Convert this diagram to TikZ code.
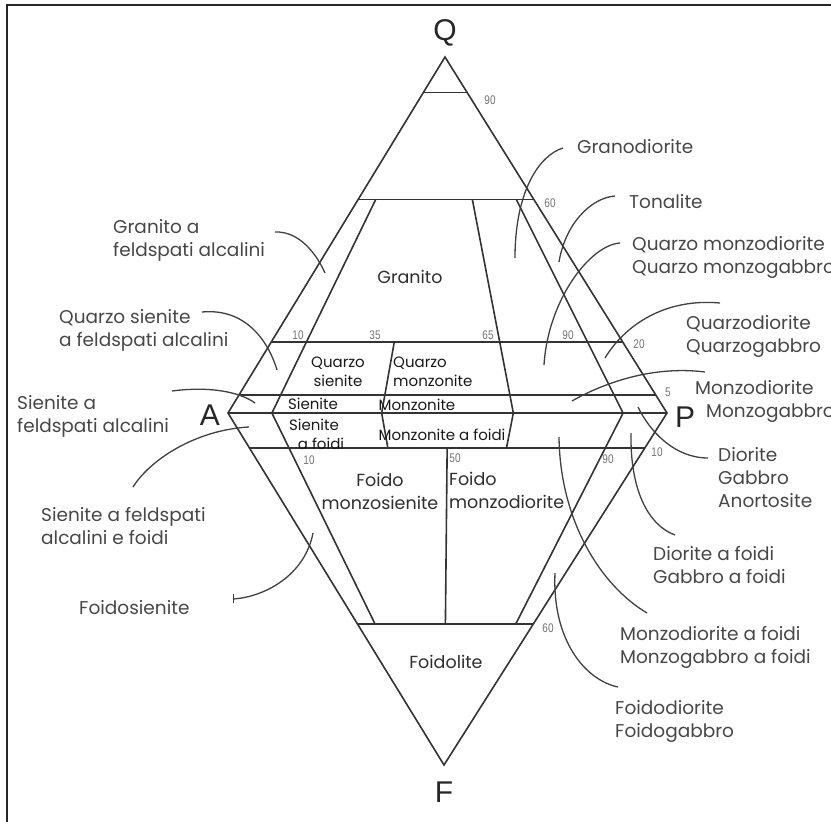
\documentclass[tikz,border=0pt]{standalone}
\usepackage{fontspec}
\setmainfont{Poppins}
\newfontfamily\lettfont{Liberation Sans}
\begin{document}
\begin{tikzpicture}[x=1pt,y=-1pt,
 edge/.style={draw=black!80, line width=1.6pt, line join=miter},
 lead/.style={draw=black!75, line width=1.3pt},
 frame/.style={draw=black!85, line width=1.4pt},
 outlbl/.style={text=black!72, font=\fontsize{18.5}{23}\selectfont, align=left, anchor=west, inner sep=0pt},
 inlbl/.style={text=black!82, font=\fontsize{17.5}{23}\selectfont, align=center, inner sep=0pt},
 smlbl/.style={text=black!90, font=\fontsize{15}{19}\selectfont, align=center, inner sep=0pt},
 num/.style={text=black!55, font=\lettfont\fontsize{12.5}{13}\selectfont, xscale=0.8, inner sep=0pt},
 vtx/.style={text=black!85, font=\lettfont\fontsize{30}{30}\selectfont, inner sep=0pt}]
\useasboundingbox (0,0) rectangle (831,822);
\draw[frame] (7,822) -- (7,5) -- (831,5);

% vertices
\coordinate (Q) at (445,57);
\coordinate (A) at (228,413);
\coordinate (P) at (667,413);
\coordinate (F) at (444,765);

\node[vtx] (lQ) at (445,33) {Q};
\node[vtx] (lA) at (210,415) {A};
\node[vtx] (lP) at (685,417) {P};
\node[vtx] (lF) at (444,792) {F};

% outline
\draw[edge] (Q) -- (A) -- (F) -- (P) -- cycle;
\draw[edge] (A) -- (P);

% horizontal lines, upper
\foreach \q in {0.9,0.6,0.2,0.05}{
  \draw[edge] (barycentric cs:Q=\q,A={1-\q}) -- (barycentric cs:Q=\q,P={1-\q});
}
% horizontal lines, lower
\foreach \f in {0.1,0.6}{
  \draw[edge] (barycentric cs:F=\f,A={1-\f}) -- (barycentric cs:F=\f,P={1-\f});
}
% ratio lines, upper
\draw[edge] (barycentric cs:Q=0.6,A=0.36,P=0.04) -- (barycentric cs:A=0.9,P=0.1);
\draw[edge] (barycentric cs:Q=0.2,A=0.52,P=0.28) -- (barycentric cs:A=0.65,P=0.35);
\draw[edge] (barycentric cs:Q=0.6,A=0.14,P=0.26) -- (barycentric cs:A=0.35,P=0.65);
\draw[edge] (barycentric cs:Q=0.6,A=0.04,P=0.36) -- (barycentric cs:A=0.1,P=0.9);
% ratio lines, lower
\draw[edge] (barycentric cs:A=0.9,P=0.1) -- (barycentric cs:F=0.6,A=0.36,P=0.04);
\draw[edge] (barycentric cs:A=0.65,P=0.35) -- (barycentric cs:F=0.1,A=0.585,P=0.315);
\draw[edge] (barycentric cs:F=0.1,A=0.45,P=0.45) -- (barycentric cs:F=0.6,A=0.2,P=0.2);
\draw[edge] (barycentric cs:A=0.35,P=0.65) -- (barycentric cs:F=0.1,A=0.315,P=0.585);
\draw[edge] (barycentric cs:A=0.1,P=0.9) -- (barycentric cs:F=0.6,A=0.04,P=0.36);

% numbers
\node[num] (n1) at (490,100) {90};
\node[num] (n2) at (550,203) {60};
\node[num] (n3) at (298,335) {10};
\node[num] (n4) at (375,335) {35};
\node[num] (n5) at (488,335) {65};
\node[num] (n6) at (568,335) {90};
\node[num] (n7) at (639,344) {20};
\node[num] (n8) at (668,392) {5};
\node[num] (n9) at (309,460) {10};
\node[num] (n10) at (455,458) {50};
\node[num] (n11) at (608,459) {90};
\node[num] (n12) at (657,452) {10};
\node[num] (n13) at (548,628) {60};

% inner labels
\node[inlbl] (granito) at (410,277) {Granito};
\node[smlbl] (qsien) at (338,372) {Quarzo\\sienite};
\node[smlbl, align=left, anchor=west] (qmonz) at (393,372) {Quarzo\\monzonite};
\node[smlbl] (sien) at (313,404) {Sienite};
\node[smlbl] (monz) at (417,405) {Monzonite};
\node[smlbl] (sienf) at (314,434) {Sienite\\\hspace*{14pt}a foidi};
\node[smlbl] (monzf) at (442,435) {Monzonite a foidi};
\node[inlbl] (fmsien) at (380,491) {Foido\\monzosienite};
\node[inlbl, align=left, anchor=west] (fmdior) at (449,490) {Foido\\monzodiorite};
\node[inlbl] (foidolite) at (446,662) {Foidolite};

% outer labels
\node[outlbl] (L1) at (577,147) {Granodiorite};
\node[outlbl] (L2) at (629,202) {Tonalite};
\node[outlbl] (L3) at (632,257) {Quarzo monzodiorite\\Quarzo monzogabbro};
\node[outlbl] (L4) at (686,336) {Quarzodiorite\\Quarzogabbro};
\node[outlbl] (L5) at (695,401) {Monzodiorite\\\hspace*{11pt}Monzogabbro};
\node[outlbl] (L6) at (718,478) {Diorite\\Gabbro\\Anortosite};
\node[outlbl] (L7) at (653,565) {Diorite a foidi\\Gabbro a foidi};
\node[outlbl] (L8) at (620,647) {Monzodiorite a foidi\\Monzogabbro a foidi};
\node[outlbl] (L9) at (615,721) {Foidodiorite\\Foidogabbro};
\node[outlbl] (L10) at (113,240) {Granito a\\feldspati alcalini};
\node[outlbl] (L11) at (59,330) {Quarzo sienite\\a feldspati alcalini};
\node[outlbl] (L12) at (17,416) {Sienite a\\feldspati alcalini};
\node[outlbl] (L13) at (41,526) {Sienite a feldspati\\alcalini e foidi};
\node[outlbl] (L14) at (79,608) {Foidosienite};

% leader curves
\coordinate (a1) at (563,148); \coordinate (b1) at (515,258);
\draw[lead] (a1) .. controls (540,155) and (515,190) .. (b1);
\coordinate (a2) at (615,196); \coordinate (b2) at (559,262);
\draw[lead] (a2) .. controls (590,198) and (565,225) .. (b2);
\coordinate (a3) at (620,243); \coordinate (b3) at (544,365);
\draw[lead] (a3) .. controls (590,245) and (548,300) .. (b3);
\coordinate (a4) at (720,303); \coordinate (b4) at (605,358);
\draw[lead] (a4) .. controls (665,298) and (625,325) .. (b4);
\coordinate (a5) at (705,372); \coordinate (b5) at (572,401);
\draw[lead] (a5) .. controls (650,365) and (600,385) .. (b5);
\coordinate (a6) at (708,458); \coordinate (b6) at (638,407);
\draw[lead] (a6) .. controls (675,458) and (650,432) .. (b6);
\coordinate (a7) at (675,535); \coordinate (b7) at (631,433);
\draw[lead] (a7) .. controls (648,525) and (630,490) .. (b7);
\coordinate (a8) at (647,613); \coordinate (b8) at (559,437);
\draw[lead] (a8) .. controls (600,585) and (560,520) .. (b8);
\coordinate (a9) at (618,687); \coordinate (b9) at (555,573);
\draw[lead] (a9) .. controls (585,680) and (552,640) .. (b9);
\coordinate (a10) at (275,232); \coordinate (b10) at (325,273);
\draw[lead] (a10) .. controls (300,231) and (317,255) .. (b10);
\coordinate (a11) at (202,312); \coordinate (b11) at (277,370);
\draw[lead] (a11) .. controls (245,308) and (268,340) .. (b11);
\coordinate (a12) at (172,391); \coordinate (b12) at (255,403);
\draw[lead] (a12) .. controls (210,386) and (240,392) .. (b12);
\coordinate (a13) at (133,487); \coordinate (b13) at (249,427);
\draw[lead] (a13) .. controls (150,460) and (195,430) .. (b13);
\coordinate (a14) at (233,599); \coordinate (b14) at (313,533);
\draw[lead] (a14) .. controls (265,597) and (305,575) .. (b14);
\coordinate (t1) at (233,594); \coordinate (t2) at (233,603);
\draw[lead, line width=0.8pt] (t1) -- (t2);
\end{tikzpicture}
\end{document}
